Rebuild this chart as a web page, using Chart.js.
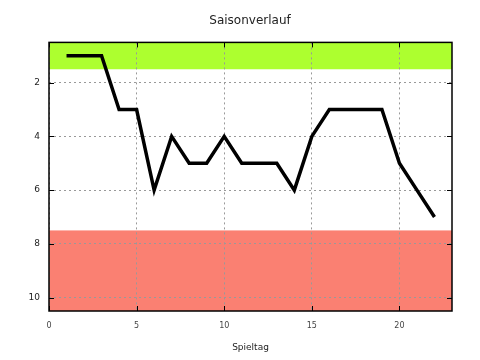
<!DOCTYPE html>
<html>
<head>
<meta charset="utf-8">
<script src="https://cdn.jsdelivr.net/npm/chart.js@4/dist/chart.umd.min.js"></script>
<style>
  html, body { margin: 0; padding: 0; background: #fff; }
  canvas { display: block; }
</style>
</head>
<body>
<canvas id="grafico" width="480" height="360"></canvas>
<script>
// DATEN
const spieltage = [1, 2, 3, 4, 5, 6, 7, 8, 9, 10, 11, 12, 13, 14, 15, 16, 17, 18, 19, 20, 21, 22];
const platzierung = [1, 1, 1, 3, 3, 6, 4, 5, 5, 4, 5, 5, 5, 6, 4, 3, 3, 3, 3, 5, 6, 7];
const xTicks = [0, 5, 10, 15, 20];
const yTicks = [2, 4, 6, 8, 10];
// Bereiche: [von, bis, farbe]
const bandOben = [0.5, 1.5, '#adff2f'];
const bandUnten = [7.5, 10.5, '#fa8072'];

const schrift = 'DejaVu Sans, sans-serif';

// Plugin: farbige Bereiche unter dem Gitter, Rahmen + Tickmarken darüber
const bereichePlugin = {
  id: 'bereiche',
  beforeDraw(chart) {
    const { ctx, chartArea: a, scales: { y } } = chart;
    ctx.save();
    [bandOben, bandUnten].forEach(([von, bis, farbe]) => {
      const y1 = y.getPixelForValue(von);
      const y2 = y.getPixelForValue(bis);
      ctx.fillStyle = farbe;
      ctx.fillRect(a.left, Math.min(y1, y2), a.right - a.left, Math.abs(y2 - y1));
    });
    ctx.restore();
  },
  afterDraw(chart) {
    const { ctx, chartArea: a, scales: { x, y } } = chart;
    ctx.save();
    ctx.strokeStyle = '#000';
    ctx.lineWidth = 1;
    ctx.beginPath();
    xTicks.forEach(v => {
      const px = Math.round(x.getPixelForValue(v)) + 0.5;
      ctx.moveTo(px, a.bottom); ctx.lineTo(px, a.bottom - 5);
      ctx.moveTo(px, a.top); ctx.lineTo(px, a.top + 5);
    });
    yTicks.forEach(v => {
      const py = Math.round(y.getPixelForValue(v)) + 0.5;
      ctx.moveTo(a.left, py); ctx.lineTo(a.left + 5, py);
      ctx.moveTo(a.right, py); ctx.lineTo(a.right - 5, py);
    });
    ctx.stroke();
    ctx.lineWidth = 1.5;
    ctx.strokeRect(a.left, a.top, a.right - a.left, a.bottom - a.top);
    ctx.restore();
  }
};

new Chart(document.getElementById('grafico'), {
  type: 'line',
  data: {
    datasets: [{
      data: spieltage.map((s, i) => ({ x: s, y: platzierung[i] })),
      borderColor: '#000',
      borderWidth: 3.5,
      pointRadius: 0,
      tension: 0,
      fill: false
    }]
  },
  options: {
    responsive: false,
    animation: false,
    // links 20 + rechts Leerachse, damit der Titel über der Zeichenfläche zentriert ist
    layout: { padding: { left: 20, right: 0, top: 0, bottom: 0 } },
    plugins: {
      legend: { display: false },
      tooltip: { enabled: false },
      title: {
        display: true,
        text: 'Saisonverlauf',
        color: '#222',
        font: { family: schrift, size: 12, weight: 'normal' },
        padding: { top: 14, bottom: 14 }
      }
    },
    scales: {
      x: {
        type: 'linear',
        min: 0,
        max: 23,
        afterBuildTicks: s => { s.ticks = xTicks.map(v => ({ value: v })); },
        afterFit: s => { s.height = 49; },
        ticks: {
          color: '#444',
          padding: 10,
          font: { family: schrift, size: 8 }
        },
        grid: { color: '#999', drawTicks: false },
        border: { display: false, dash: [2, 3] },
        title: {
          display: true,
          text: 'Spieltag',
          color: '#222',
          font: { family: schrift, size: 9 },
          padding: { top: 0, bottom: 7 }
        }
      },
      y: {
        type: 'linear',
        reverse: true,
        min: 0.5,
        max: 10.5,
        afterBuildTicks: s => { s.ticks = yTicks.map(v => ({ value: v })); },
        afterFit: s => { s.width = 29; },
        ticks: {
          color: '#222',
          padding: 9,
          font: { family: schrift, size: 9 }
        },
        grid: { color: '#999', drawTicks: false },
        border: { display: false, dash: [2, 3] }
      },
      rechts: {
        type: 'linear',
        position: 'right',
        afterFit: s => { s.width = 28; },
        ticks: { display: false },
        grid: { display: false, drawTicks: false },
        border: { display: false }
      }
    }
  },
  plugins: [bereichePlugin]
});
</script>
</body>
</html>
